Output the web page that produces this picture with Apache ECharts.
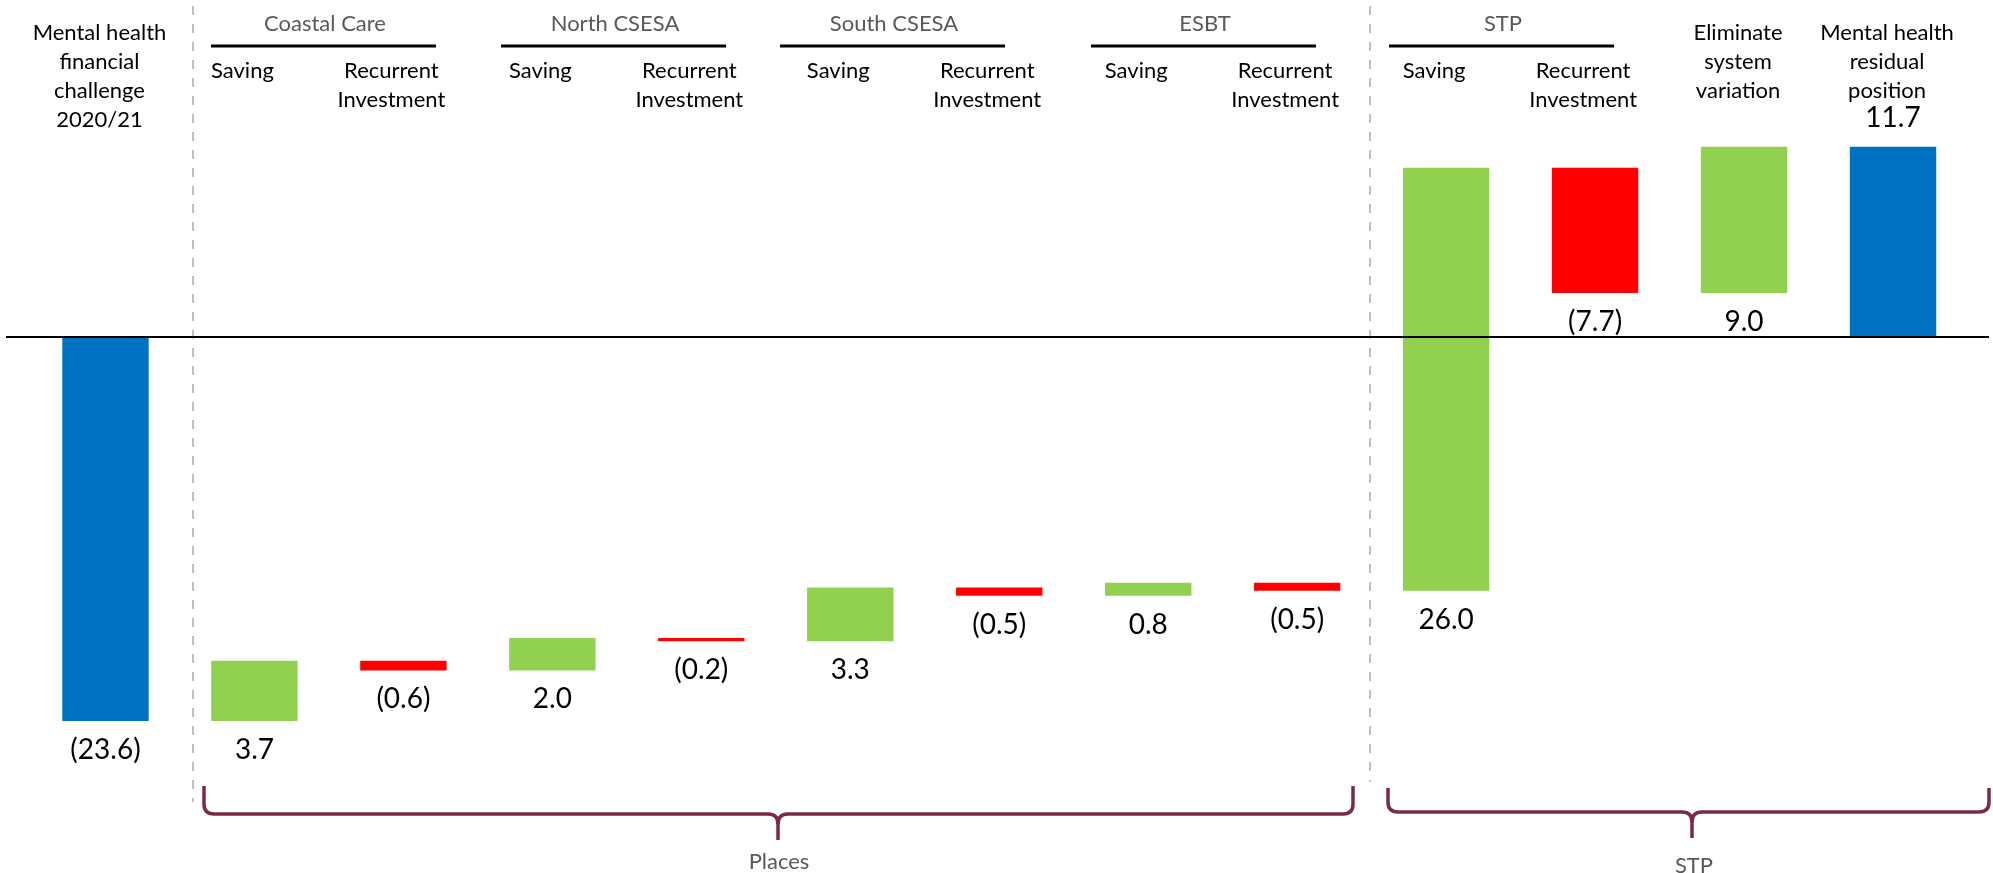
<!DOCTYPE html>
<html>
<head>
<meta charset="utf-8">
<script src="https://cdn.jsdelivr.net/npm/echarts@6/dist/echarts.min.js"></script>
<style>
html,body{margin:0;padding:0;background:#fff;}
#c{width:1993px;height:873px;}
</style>
</head>
<body>
<div id="c"></div>
<script>
// ---- data ----
const categories = [
  'Mental health\nfinancial\nchallenge\n2020/21',
  'Saving', 'Recurrent\nInvestment',
  'Saving', 'Recurrent\nInvestment',
  'Saving', 'Recurrent\nInvestment',
  'Saving', 'Recurrent\nInvestment',
  'Saving', 'Recurrent\nInvestment',
  'Eliminate\nsystem\nvariation',
  'Mental health\nresidual\nposition'
];
const values = [-23.6, 3.7, -0.6, 2.0, -0.2, 3.3, -0.5, 0.8, -0.5, 26.0, -7.7, 9.0, 11.7];
const kinds = ['total','change','change','change','change','change','change','change','change','change','change','change','total'];
const groups = ['Coastal Care', 'North CSESA', 'South CSESA', 'ESBT', 'STP'];
const sections = ['Places', 'STP'];

// ---- waterfall build ----
const rows = [];
let running = 0;
values.forEach((v, i) => {
  let lo, hi;
  if (kinds[i] === 'total') { lo = Math.min(0, v); hi = Math.max(0, v); running = v; }
  else { const s = running, e = running + v; lo = Math.min(s, e); hi = Math.max(s, e); running = e; }
  rows.push([i, lo, hi, v]);
});
const fmt = v => v < 0 ? '(' + Math.abs(v).toFixed(1) + ')' : v.toFixed(1);
const COL_TOTAL = '#0070C0', COL_UP = '#92D050', COL_DOWN = '#FF0000';
const FONT = 'Lato, "Open Sans", sans-serif';

const chart = echarts.init(document.getElementById('c'));
chart.setOption({
  animation: false,
  grid: { left: 31, right: 25.5, top: 93, height: 732 },
  xAxis: { type: 'category', data: categories, show: false },
  yAxis: { type: 'value', min: -30, max: 15, show: false, splitLine: { show: false } },
  series: [{
    type: 'custom',
    data: rows,
    encode: { x: 0, y: [1, 2] },
    renderItem: function (params, api) {
      const i = api.value(0), lo = api.value(1), hi = api.value(2), v = api.value(3);
      const top = api.coord([i, hi]), bot = api.coord([i, lo]);
      const w = api.size([1, 0])[0] * 0.58;
      const color = kinds[i] === 'total' ? COL_TOTAL : (v >= 0 ? COL_UP : COL_DOWN);
      const above = kinds[i] === 'total' && v > 0;
      return {
        type: 'group',
        children: [
          { type: 'rect', shape: { x: top[0] - w / 2, y: top[1], width: w, height: Math.max(1, bot[1] - top[1]) }, style: { fill: color } },
          { type: 'text', x: top[0], y: above ? top[1] - 29 : bot[1] + 29,
            style: { text: fmt(v), fill: '#000', font: '28px ' + FONT, align: 'center', verticalAlign: 'middle' } }
        ]
      };
    }
  }]
});

// ---- annotations ----
const g = [];
const y0 = chart.convertToPixel({ yAxisIndex: 0 }, 0);
// zero line
g.push({ type: 'line', shape: { x1: 6, y1: y0, x2: 1989, y2: y0 }, style: { stroke: '#000', lineWidth: 2 }, z: 10 });
// dashed separators
g.push({ type: 'line', shape: { x1: 193, y1: 6, x2: 193, y2: 802 }, style: { stroke: '#BFBFBF', lineWidth: 2, lineDash: [9, 9] } });
g.push({ type: 'line', shape: { x1: 1370, y1: 6, x2: 1370, y2: 782 }, style: { stroke: '#BFBFBF', lineWidth: 2, lineDash: [9, 9] } });
// category headers
categories.forEach((c, i) => {
  const x = chart.convertToPixel({ xAxisIndex: 0 }, i);
  const sub = (c === 'Saving' || c.indexOf('Recurrent') === 0);
  g.push({ type: 'text', x: x - (sub ? 12 : 6), y: sub ? 56 : 18,
    style: { text: c, fill: '#000', font: '22px ' + FONT, lineHeight: 29, align: 'center', verticalAlign: 'top' } });
});
// group headers with underline
const groupCenters = [323, 613, 892, 1203, 1501];
groups.forEach((name, k) => {
  const cx = groupCenters[k];
  g.push({ type: 'text', x: cx + 2, y: 24, style: { text: name, fill: '#595959', font: '22px ' + FONT, align: 'center', verticalAlign: 'middle' } });
  g.push({ type: 'line', shape: { x1: cx - 112, y1: 46, x2: cx + 113, y2: 46 }, style: { stroke: '#000', lineWidth: 3 } });
});
// braces
const BRACE = '#7A2A48';
function brace(x0, x1, tip, yTop, yH, yTip) {
  const r = 10, st = { stroke: BRACE, lineWidth: 3.5, fill: null };
  const L = (a, b, c, d) => ({ type: 'line', shape: { x1: a, y1: b, x2: c, y2: d }, style: st });
  const Q = (a, b, cx, cy, c, d) => ({ type: 'bezierCurve', shape: { x1: a, y1: b, cpx1: cx, cpy1: cy, x2: c, y2: d }, style: st });
  g.push(L(x0, yTop, x0, yH - r));
  g.push(Q(x0, yH - r, x0, yH, x0 + r, yH));
  g.push(L(x0 + r, yH, tip - r, yH));
  g.push(Q(tip - r, yH, tip, yH, tip, yH + r));
  g.push(L(tip, yH + r, tip, yTip));
  g.push(Q(tip, yH + r, tip, yH, tip + r, yH));
  g.push(L(tip + r, yH, x1 - r, yH));
  g.push(Q(x1 - r, yH, x1, yH, x1, yH - r));
  g.push(L(x1, yH - r, x1, yTop));
}
brace(204, 1353, 778, 786, 814, 840);
brace(1388, 1989, 1692, 788, 812, 838);
g.push({ type: 'text', x: 779, y: 862, style: { text: sections[0], fill: '#595959', font: '22px ' + FONT, align: 'center', verticalAlign: 'middle' } });
g.push({ type: 'text', x: 1694, y: 866, style: { text: sections[1], fill: '#595959', font: '22px ' + FONT, align: 'center', verticalAlign: 'middle' } });

chart.setOption({ graphic: { elements: g } });
</script>
</body>
</html>
